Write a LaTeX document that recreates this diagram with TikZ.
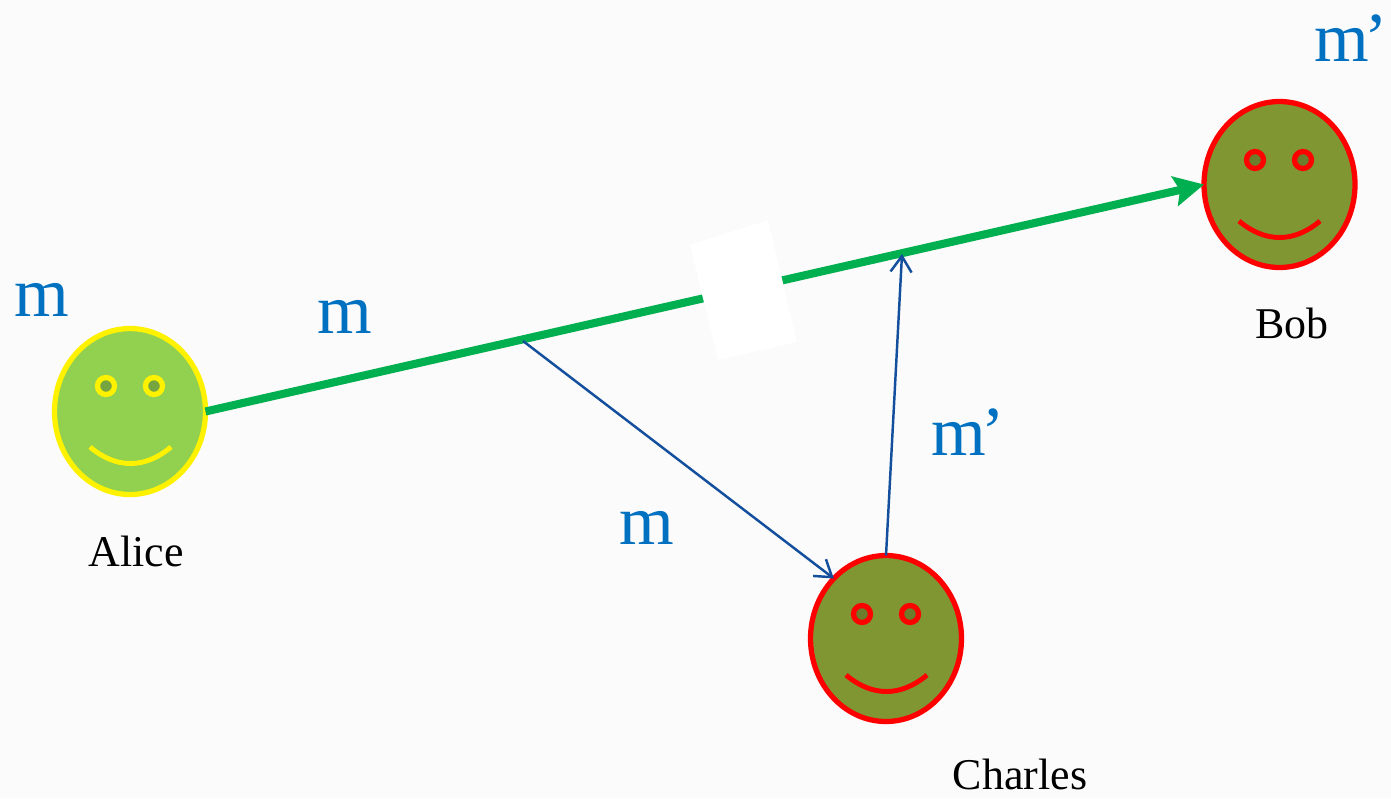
\documentclass[tikz,border=0pt]{standalone}
\usepackage{fontspec}
\setmainfont{Liberation Serif}
\usetikzlibrary{arrows.meta,shapes.geometric}
\definecolor{paper}{HTML}{FBFBFB}
\definecolor{linkgreen}{HTML}{00B050}
\definecolor{tapblue}{HTML}{134F9C}
\definecolor{msgblue}{HTML}{0070C0}
\definecolor{goodface}{HTML}{92D050}
\definecolor{goodeye}{HTML}{76A540}
\definecolor{badface}{HTML}{7F9632}
\definecolor{badeye}{HTML}{6B7D2C}
\tikzset{
	face/.style={draw,ellipse,line width=3pt,inner sep=0pt,outer sep=0pt,minimum width=3.02cm,minimum height=3.32cm},
	eye/.style={draw,circle,line width=3pt,inner sep=0pt,outer sep=0pt,minimum size=0.34cm},
	smile/.style={line width=2.8pt},
	msg/.style={anchor=base,inner sep=0pt,text=msgblue,font=\fontsize{40}{40}\selectfont},
	who/.style={anchor=base,inner sep=0pt,text=black,font=\fontsize{25}{25}\selectfont},
	tapline/.style={draw=tapblue,line width=1.4pt,-{Straight Barb[length=9pt,width=12pt,line width=1.4pt]}}
}
\begin{document}
\begin{tikzpicture}[x=0.02cm,y=-0.02cm]
	% page
	\fill[paper] (0,0) rectangle (1391,798);
	\useasboundingbox (0,0) rectangle (1391,798);
	% faces
	\node[face,draw=yellow,fill=goodface] (alice) at (130,411.5) {};
	\node[eye,draw=yellow,fill=goodeye] (aliceL) at (106,386) {};
	\node[eye,draw=yellow,fill=goodeye] (aliceR) at (154,386) {};
	\draw[smile,yellow] (90,447) .. controls (116,469) and (145,469) .. (171,447);
	\node[face,draw=red,fill=badface] (bob) at (1279.5,184.5) {};
	\node[eye,draw=red,fill=badeye] (bobL) at (1255,160) {};
	\node[eye,draw=red,fill=badeye] (bobR) at (1303,160) {};
	\draw[smile,red] (1239,221) .. controls (1265,243) and (1294,243) .. (1320,221);
	\node[face,draw=red,fill=badface] (charles) at (886,638.5) {};
	\node[eye,draw=red,fill=badeye] (charlesL) at (862,614) {};
	\node[eye,draw=red,fill=badeye] (charlesR) at (910,614) {};
	\draw[smile,red] (846,675) .. controls (872,697) and (901,697) .. (927,675);
	% links
	\coordinate (tap) at (523,341);
	\coordinate (hit) at (902,254);
	\draw[linkgreen,line width=4.6pt,-{Stealth[length=17pt,width=17pt,inset=3pt]}] (alice.east) -- (bob.west);
	\fill[white] (690,245) -- (768,220) -- (797,342) -- (718,360) -- cycle;
	\draw[tapline] (tap) -- (charles.131);
	\draw[tapline] (charles.north) -- (hit);
	% labels
	\node[msg] (m1) at (42,316) {m};
	\node[msg] (m2) at (345,333) {m};
	\node[msg] (m3) at (647,544) {m};
	\node[msg] (m4) at (968,455) {m\kern-3pt’};
	\node[msg] (m5) at (1351,61) {m\kern-3pt’};
	\node[who] (alicename) at (136,566) {Alice};
	\node[who] (bobname) at (1292,338) {Bob};
	\node[who] (charlesname) at (1020,789) {Charles};
\end{tikzpicture}
\end{document}
